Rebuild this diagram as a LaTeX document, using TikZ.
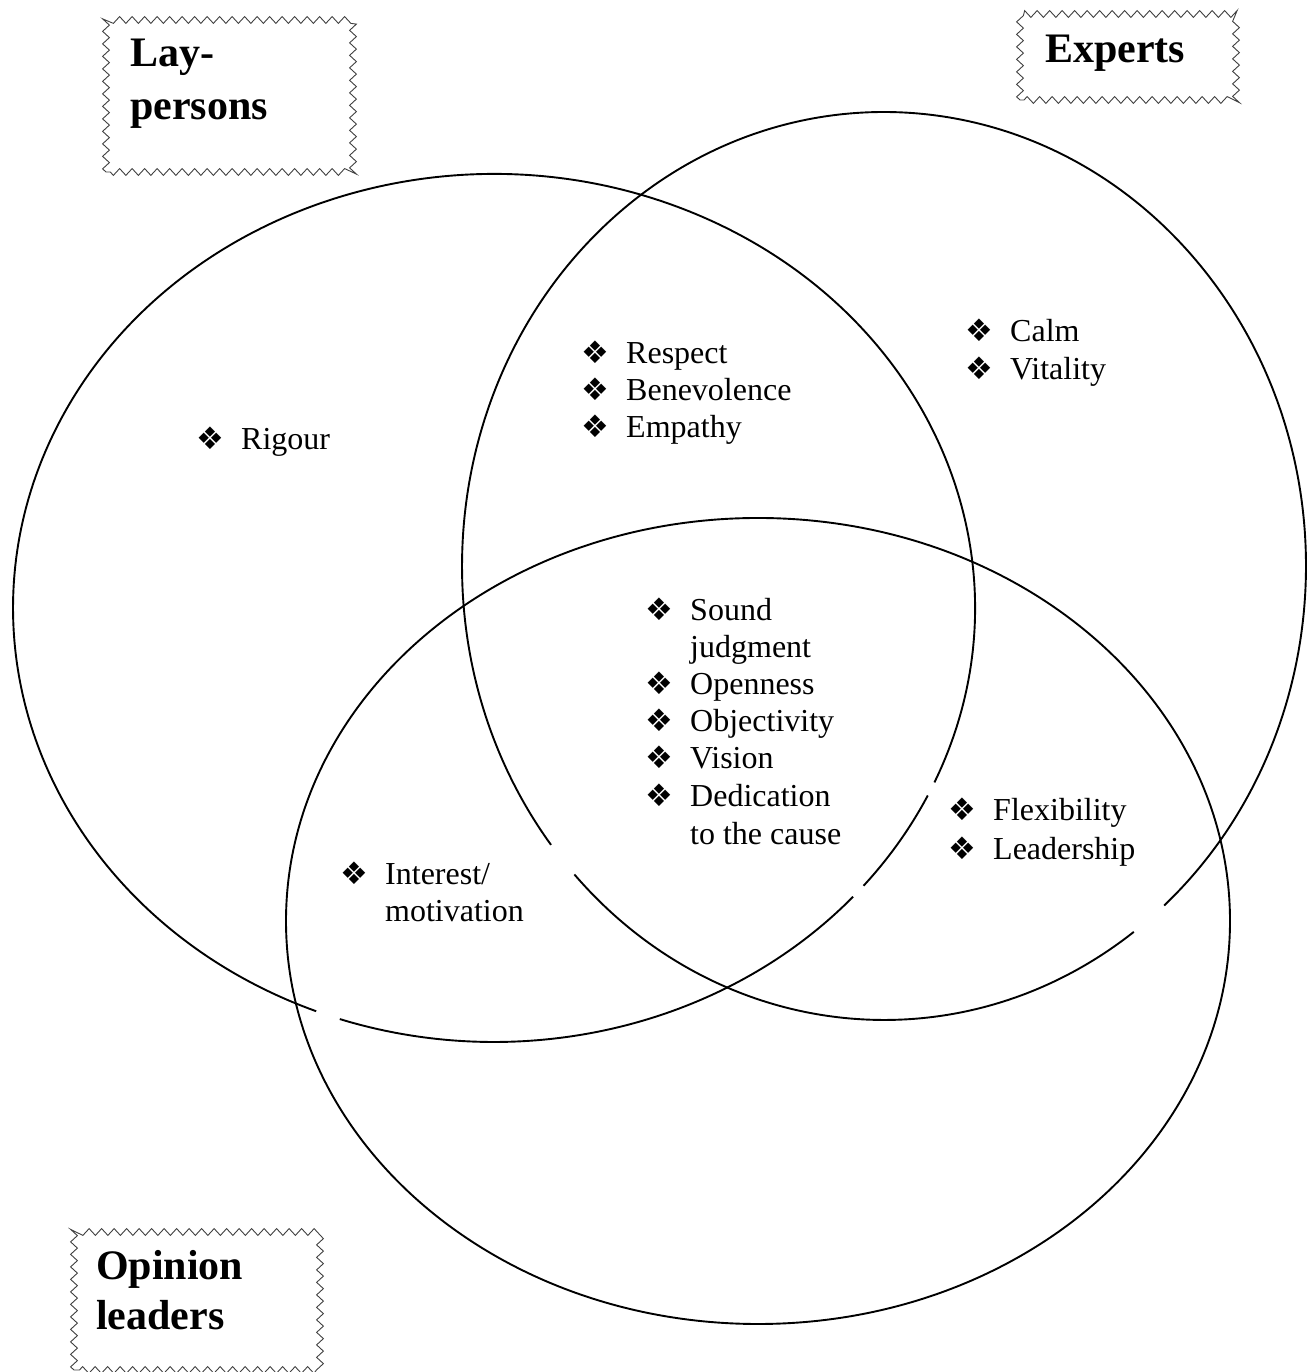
\documentclass[tikz,border=0pt]{standalone}
\usepackage{fontspec}
\setmainfont{Liberation Serif}
\newfontfamily\symfont{DejaVu Sans}
\usetikzlibrary{decorations.pathmorphing}

% list bullet: a fixed-width box holding the dingbat, then the text
\newcommand{\lbul}{\makebox[45pt][l]{\raisebox{0pt}{\fontsize{31}{31}\symfont ❖}}}
\newcommand{\lind}{\hspace*{45pt}}

\tikzset{
  venn/.style={line width=1.9pt, black},
  tagbox/.style={draw=black!75, line width=0.9pt, decorate,
    decoration={zigzag, segment length=12.5pt, amplitude=3.4pt}},
  tagtext/.style={anchor=base west, inner sep=0pt,
    font=\fontsize{42}{48}\selectfont\bfseries},
  listline/.style={anchor=base west, inner sep=0pt,
    font=\fontsize{32}{37}\selectfont},
}

\begin{document}
\begin{tikzpicture}[x=1pt, y=1pt]
\useasboundingbox (0,0) rectangle (1307,1372);

% Lay-persons ellipse (small breaks in the outline)
\draw[venn] (494,764) ++(251.3:481pt and 434pt)
  arc[start angle=251.3, end angle=318.3, x radius=481pt, y radius=434pt];
\draw[venn] (494,764) ++(320.2:481pt and 434pt)
  arc[start angle=320.2, end angle=334.4, x radius=481pt, y radius=434pt];
\draw[venn] (494,764) ++(336.3:481pt and 434pt)
  arc[start angle=336.3, end angle=608.3, x radius=481pt, y radius=434pt];

% Experts ellipse
\draw[venn] (884,806) ++(222.8:422pt and 454pt)
  arc[start angle=222.8, end angle=306.3, x radius=422pt, y radius=454pt];
\draw[venn] (884,806) ++(311.6:422pt and 454pt)
  arc[start angle=311.6, end angle=577.9, x radius=422pt, y radius=454pt];

% Opinion leaders ellipse
\draw[venn] (758,451) ellipse[x radius=472pt, y radius=403pt];

% group tags
\draw[tagbox] (106,1200) rectangle (353,1352);
\node[tagtext] (layA) at (130,1305) {Lay-};
\node[tagtext] (layB) at (130,1252) {persons};

\draw[tagbox] (1020,1272) rectangle (1236,1358);
\node[tagtext] (expt) at (1045,1309) {Experts};

\draw[tagbox] (74,2) rectangle (320,140);
\node[tagtext] (opA) at (96,92) {Opinion};
\node[tagtext] (opB) at (96,42) {leaders};

% Lay-persons only
\node[listline] (rig) at (196,922) {\lbul Rigour};

% Lay-persons and Experts
\node[listline] (res) at (581,1008) {\lbul Respect};
\node[listline] (ben) at (581,971) {\lbul Benevolence};
\node[listline] (emp) at (581,934) {\lbul Empathy};

% Experts only
\node[listline] (clm) at (965,1030) {\lbul Calm};
\node[listline] (vit) at (965,992) {\lbul Vitality};

% all three groups
\node[listline] (snd) at (645,751) {\lbul Sound};
\node[listline] (jdg) at (645,714) {\lind judgment};
\node[listline] (opn) at (645,677) {\lbul Openness};
\node[listline] (obj) at (645,640) {\lbul Objectivity};
\node[listline] (vis) at (645,603) {\lbul Vision};
\node[listline] (ded) at (645,565) {\lbul Dedication};
\node[listline] (cau) at (645,527) {\lind to the cause};

% Experts and Opinion leaders
\node[listline] (flx) at (948,551) {\lbul Flexibility};
\node[listline] (lds) at (948,512) {\lbul Leadership};

% Lay-persons and Opinion leaders
\node[listline] (int) at (340,487) {\lbul Interest/};
\node[listline] (mot) at (340,450) {\lind motivation};
\end{tikzpicture}
\end{document}
